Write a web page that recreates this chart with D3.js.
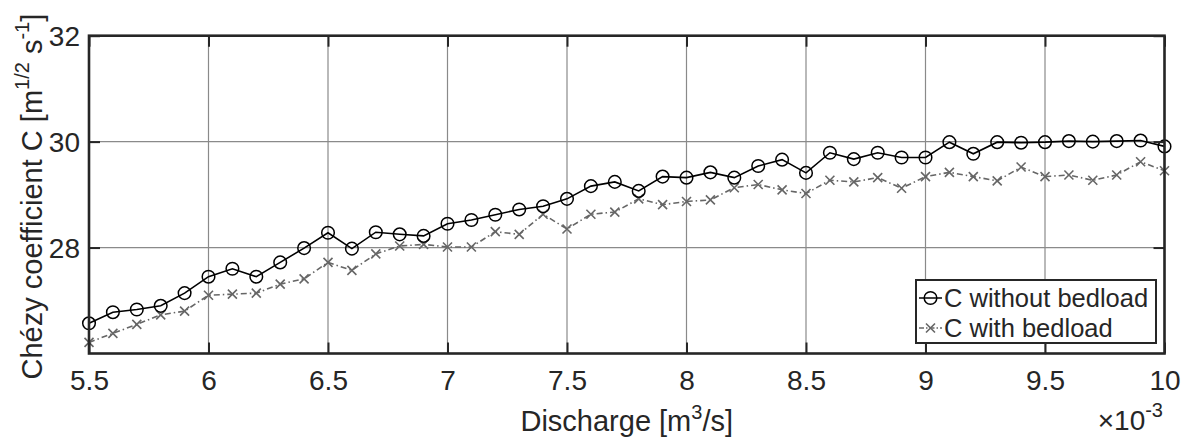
<!DOCTYPE html>
<html>
<head>
<meta charset="utf-8">
<script src="https://cdn.jsdelivr.net/npm/d3@7"></script>
<style>
  html, body { margin: 0; padding: 0; background: #fff; }
  svg { display: block; }
  text { font-family: "Liberation Sans", Arial, Helvetica, sans-serif; fill: #262626; }
</style>
</head>
<body>
<svg id="chart" width="1189" height="439"></svg>
<script>
// ---- data ----
const discharge = [5.5,5.6,5.7,5.8,5.9,6.0,6.1,6.2,6.3,6.4,6.5,6.6,6.7,6.8,6.9,7.0,7.1,7.2,7.3,7.4,7.5,7.6,7.7,7.8,7.9,8.0,8.1,8.2,8.3,8.4,8.5,8.6,8.7,8.8,8.9,9.0,9.1,9.2,9.3,9.4,9.5,9.6,9.7,9.8,9.9,10.0];
const cWithout = [26.57,26.78,26.83,26.90,27.14,27.45,27.60,27.45,27.72,27.99,28.28,27.98,28.29,28.25,28.22,28.45,28.52,28.62,28.72,28.78,28.92,29.16,29.24,29.07,29.34,29.32,29.42,29.32,29.54,29.66,29.41,29.79,29.67,29.79,29.70,29.70,29.99,29.77,29.99,29.98,29.99,30.01,30.00,30.01,30.02,29.91];
const cWith = [26.21,26.38,26.55,26.73,26.80,27.10,27.12,27.14,27.31,27.41,27.72,27.57,27.88,28.03,28.06,28.01,28.01,28.30,28.25,28.63,28.35,28.63,28.67,28.92,28.81,28.87,28.90,29.13,29.19,29.09,29.02,29.27,29.24,29.32,29.12,29.34,29.42,29.34,29.26,29.52,29.34,29.37,29.27,29.37,29.62,29.45];
const xTicks = [5.5,6,6.5,7,7.5,8,8.5,9,9.5,10];
const xTickLabels = ["5.5","6","6.5","7","7.5","8","8.5","9","9.5","10"];
const yTicks = [28,30,32];
const yTickLabels = ["28","30","32"];
const seriesNames = ["C without bedload","C with bedload"];

// ---- layout ----
const L = 89, R = 1164.5, T = 35.7, B = 353.5;
const axisColor = "#262626", gridColor = "#8a8a8a";
const svg = d3.select("#chart");
const x = d3.scaleLinear().domain([5.5, 10]).range([L, R]);
const y = d3.scaleLinear().domain([26, 32]).range([B, T]);

// grid
const g = svg.append("g");
g.selectAll("line.vg").data(xTicks).join("line")
  .attr("x1", d => x(d)).attr("x2", d => x(d)).attr("y1", T).attr("y2", B)
  .attr("stroke", gridColor).attr("stroke-width", 1.2);
g.selectAll("line.hg").data(yTicks).join("line")
  .attr("y1", d => y(d)).attr("y2", d => y(d)).attr("x1", L).attr("x2", R)
  .attr("stroke", gridColor).attr("stroke-width", 1.2);

// series
const line1 = d3.line().x((d, i) => x(discharge[i])).y(d => y(d));
svg.append("path").datum(cWith).attr("d", line1)
  .attr("fill", "none").attr("stroke", "#666").attr("stroke-width", 1.6)
  .attr("stroke-dasharray", "6,3,1.5,3");
svg.append("path").datum(cWithout).attr("d", line1)
  .attr("fill", "none").attr("stroke", "#000").attr("stroke-width", 1.6);

function cross(sel, cx, cy, s) {
  sel.append("path")
    .attr("d", `M${cx - s},${cy - s}L${cx + s},${cy + s}M${cx - s},${cy + s}L${cx + s},${cy - s}`)
    .attr("stroke", "#666").attr("stroke-width", 1.6).attr("fill", "none");
}
const mk2 = svg.append("g");
cWith.forEach((v, i) => cross(mk2, x(discharge[i]), y(v), 4.5));
svg.append("g").selectAll("circle").data(cWithout).join("circle")
  .attr("cx", (d, i) => x(discharge[i])).attr("cy", d => y(d)).attr("r", 6.3)
  .attr("fill", "none").attr("stroke", "#000").attr("stroke-width", 1.5);

// axes with d3 axis generators (inner ticks)
const fs = 28;
const xAxis = svg.append("g").attr("transform", `translate(0,${B})`)
  .call(d3.axisBottom(x).tickValues(xTicks).tickFormat((d, i) => xTickLabels[i]).tickSizeInner(-11).tickSizeOuter(0).tickPadding(25));
const xAxisTop = svg.append("g").attr("transform", `translate(0,${T})`)
  .call(d3.axisTop(x).tickValues(xTicks).tickFormat("").tickSizeInner(-11).tickSizeOuter(0));
const yAxis = svg.append("g").attr("transform", `translate(${L},0)`)
  .call(d3.axisLeft(y).tickValues(yTicks).tickFormat((d, i) => yTickLabels[i]).tickSizeInner(-11).tickSizeOuter(0).tickPadding(20));
const yAxisR = svg.append("g").attr("transform", `translate(${R},0)`)
  .call(d3.axisRight(y).tickValues(yTicks).tickFormat("").tickSizeInner(-11).tickSizeOuter(0));
[xAxis, xAxisTop, yAxis, yAxisR].forEach(a => {
  a.select(".domain").remove();
  a.selectAll(".tick line").attr("stroke", axisColor).attr("stroke-width", 2);
  a.selectAll(".tick text").attr("font-size", fs).attr("fill", axisColor)
    .attr("font-family", "Liberation Sans, Arial, sans-serif");
});
xAxis.selectAll(".tick text").attr("dy", null).attr("y", 36);
yAxis.selectAll(".tick text").attr("dy", "0.36em").attr("x", -9);

// box
svg.append("rect").attr("x", L).attr("y", T).attr("width", R - L).attr("height", B - T)
  .attr("fill", "none").attr("stroke", axisColor).attr("stroke-width", 2.6);

// x label
const xl = svg.append("text").attr("x", (L + R) / 2).attr("y", 431).attr("text-anchor", "middle").attr("font-size", 29);
xl.append("tspan").text("Discharge [m");
xl.append("tspan").attr("font-size", 20).attr("dy", -12).text("3");
xl.append("tspan").attr("dy", 12).text("/s]");

// exponent
const ex = svg.append("text").attr("x", 1163).attr("y", 430).attr("text-anchor", "end").attr("font-size", 28);
ex.append("tspan").text("\u00d710");
ex.append("tspan").attr("font-size", 20).attr("dy", -13).text("-3");

// y label
const yl = svg.append("text").attr("transform", `translate(42,${(T + B) / 2 + 2}) rotate(-90)`)
  .attr("text-anchor", "middle").attr("font-size", 29);
yl.append("tspan").text("Chézy coefficient C [m");
yl.append("tspan").attr("font-size", 20).attr("dy", -13).text("1/2");
yl.append("tspan").attr("dy", 13).text(" s");
yl.append("tspan").attr("font-size", 20).attr("dy", -13).text("-1");
yl.append("tspan").attr("dy", 13).text("]");

// legend
const lg = svg.append("g");
lg.append("rect").attr("x", 916).attr("y", 280).attr("width", 240).attr("height", 63)
  .attr("fill", "#fff").attr("stroke", axisColor).attr("stroke-width", 2);
const rows = [298, 328];
lg.append("line").attr("x1", 919).attr("x2", 942).attr("y1", rows[0]).attr("y2", rows[0]).attr("stroke", "#000").attr("stroke-width", 1.5);
lg.append("circle").attr("cx", 930.5).attr("cy", rows[0]).attr("r", 6.3).attr("fill", "none").attr("stroke", "#000").attr("stroke-width", 1.5);
lg.append("line").attr("x1", 919).attr("x2", 942).attr("y1", rows[1]).attr("y2", rows[1]).attr("stroke", "#666").attr("stroke-width", 1.5).attr("stroke-dasharray", "5,2,1.5,2");
cross(lg, 930.5, rows[1], 4.5);
seriesNames.forEach((n, i) => {
  lg.append("text").attr("x", 944).attr("y", rows[i] + 9).attr("font-size", 25.5).text(n);
});
</script>
</body>
</html>
